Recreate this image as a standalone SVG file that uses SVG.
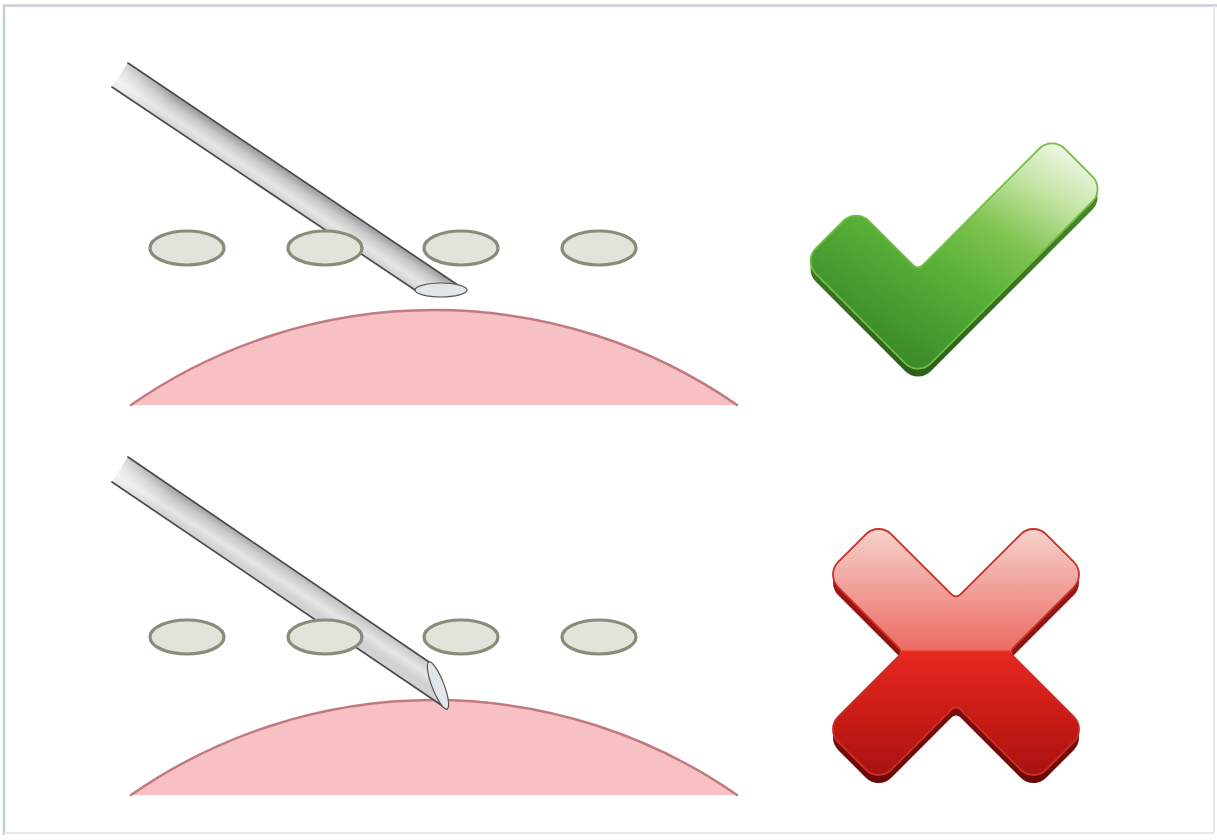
<svg xmlns="http://www.w3.org/2000/svg" width="1217" height="840" viewBox="0 0 1217 840">
  <defs>
    <style>
      .mound { fill: #f7c1c3; stroke: none; }
      .mound-edge { fill: none; stroke: #c27a80; stroke-width: 2.5; stroke-linecap: round; }
      .cell { fill: #e3e3dc; stroke: #8b8b7b; stroke-width: 3.2; }
      .edge { fill: none; stroke: #4b4b4b; stroke-width: 1.7; stroke-linecap: round; }
      .bevel { fill: #e2e6e8; stroke: #555; stroke-width: 1.2; }
    </style>
    <!-- cross-section shading of the needle shafts -->
    <linearGradient id="shaftTop" gradientUnits="userSpaceOnUse" x1="128" y1="63" x2="112" y2="87">
      <stop offset="0" stop-color="#949494"/>
      <stop offset="0.35" stop-color="#c8c8c8"/>
      <stop offset="0.72" stop-color="#e6e6e6"/>
      <stop offset="1" stop-color="#d2d2d2"/>
    </linearGradient>
    <linearGradient id="shaftBottom" gradientUnits="userSpaceOnUse" x1="128" y1="457" x2="112" y2="482">
      <stop offset="0" stop-color="#949494"/>
      <stop offset="0.35" stop-color="#c8c8c8"/>
      <stop offset="0.72" stop-color="#e6e6e6"/>
      <stop offset="1" stop-color="#d2d2d2"/>
    </linearGradient>
    <!-- soft fade at the cut end of each shaft -->
    <linearGradient id="fadeTop" gradientUnits="userSpaceOnUse" x1="118" y1="76" x2="168" y2="109">
      <stop offset="0" stop-color="#fff" stop-opacity="0.55"/>
      <stop offset="1" stop-color="#fff" stop-opacity="0"/>
    </linearGradient>
    <linearGradient id="fadeBottom" gradientUnits="userSpaceOnUse" x1="118" y1="470" x2="168" y2="504">
      <stop offset="0" stop-color="#fff" stop-opacity="0.55"/>
      <stop offset="1" stop-color="#fff" stop-opacity="0"/>
    </linearGradient>
    <!-- glossy green tick -->
    <linearGradient id="tickFace" gradientUnits="userSpaceOnUse" x1="1070" y1="140" x2="925" y2="378">
      <stop offset="0" stop-color="#f3f9ee"/>
      <stop offset="0.2" stop-color="#c6e5a6"/>
      <stop offset="0.42" stop-color="#7fc350"/>
      <stop offset="0.62" stop-color="#5ab239"/>
      <stop offset="1" stop-color="#3a8929"/>
    </linearGradient>
    <linearGradient id="tickSide" x1="0" y1="0" x2="0" y2="1">
      <stop offset="0" stop-color="#4f922f"/>
      <stop offset="1" stop-color="#2c5f18"/>
    </linearGradient>
    <!-- glossy red cross -->
    <linearGradient id="crossFace" gradientUnits="userSpaceOnUse" x1="0" y1="522" x2="0" y2="782">
      <stop offset="0" stop-color="#f8d6d2"/>
      <stop offset="0.2" stop-color="#f3aca6"/>
      <stop offset="0.49" stop-color="#ec6c64"/>
      <stop offset="0.5" stop-color="#e6281f"/>
      <stop offset="0.75" stop-color="#c91b16"/>
      <stop offset="1" stop-color="#a51210"/>
    </linearGradient>
    <linearGradient id="crossSide" x1="0" y1="0" x2="0" y2="1">
      <stop offset="0" stop-color="#a81a16"/>
      <stop offset="1" stop-color="#6c0808"/>
    </linearGradient>
  </defs>

  <!-- page frame: firm top/left rules, faint right/bottom -->
  <rect x="0" y="0" width="1217" height="840" fill="#ffffff"/>
  <path d="M4,835 L4,5.5 L1217,5.5" fill="none" stroke="#c6d0d9" stroke-width="2.5"/>
  <path d="M1214,5.5 L1214,833 L4,833" fill="none" stroke="#e3e9ee" stroke-width="2"/>

  <!-- upper scene: bevel held flat against the surface -->
  <g id="tissue-top">
    <path class="mound" d="M131,405 A531 531 0 0 1 737,405 Z"/>
    <path class="mound-edge" d="M131,405 A531 531 0 0 1 737,405"/>
  </g>
  <g id="needle-top">
    <path d="M128,63 L457,284.5 L415,290 L112,87 Z" fill="url(#shaftTop)"/>
    <path d="M128,63 L457,284.5 L415,290 L112,87 Z" fill="url(#fadeTop)"/>
    <line class="edge" x1="128" y1="63" x2="457" y2="284.5"/>
    <line class="edge" x1="112" y1="87" x2="415" y2="290"/>
    <ellipse class="bevel" cx="441" cy="290" rx="26" ry="7"/>
  </g>
  <g id="cells-top">
    <ellipse class="cell" cx="187" cy="248" rx="37" ry="17"/>
    <ellipse class="cell" cx="325" cy="248" rx="37" ry="17"/>
    <ellipse class="cell" cx="461" cy="248" rx="37" ry="17"/>
    <ellipse class="cell" cx="599" cy="248" rx="37" ry="17"/>
  </g>

  <!-- lower scene: bevel tip pointing into the surface -->
  <g id="tissue-bottom">
    <path class="mound" d="M131,795 A531 531 0 0 1 737,795 Z"/>
    <path class="mound-edge" d="M131,795 A531 531 0 0 1 737,795"/>
  </g>
  <g id="needle-bottom">
    <path d="M128,457 L429,662 L447,709 L112,482 Z" fill="url(#shaftBottom)"/>
    <path d="M128,457 L429,662 L447,709 L112,482 Z" fill="url(#fadeBottom)"/>
    <line class="edge" x1="128" y1="457" x2="429" y2="662"/>
    <line class="edge" x1="112" y1="482" x2="447" y2="709"/>
    <ellipse class="bevel" cx="438" cy="685.5" rx="25.2" ry="6" transform="rotate(69 438 685.5)"/>
  </g>
  <g id="cells-bottom">
    <ellipse class="cell" cx="187" cy="637" rx="37" ry="17"/>
    <ellipse class="cell" cx="325" cy="637" rx="37" ry="17"/>
    <ellipse class="cell" cx="461" cy="637" rx="37" ry="17"/>
    <ellipse class="cell" cx="599" cy="637" rx="37" ry="17"/>
  </g>

  <!-- green tick -->
  <g id="tick">
    <path transform="translate(0,8)" fill="url(#tickSide)" d="M905.27,363.27 L815.83,273.83 A18 18 0 0 1 815.83,248.37 L843.37,220.83 A18 18 0 0 1 868.83,220.83 L913.76,265.76 A6 6 0 0 0 922.24,265.76 L1039.27,148.73 A18 18 0 0 1 1064.73,148.73 L1092.27,176.27 A18 18 0 0 1 1092.27,201.73 L930.73,363.27 A18 18 0 0 1 905.27,363.27 Z"/>
    <path fill="url(#tickFace)" stroke="#74bd45" stroke-width="1.8" d="M905.27,363.27 L815.83,273.83 A18 18 0 0 1 815.83,248.37 L843.37,220.83 A18 18 0 0 1 868.83,220.83 L913.76,265.76 A6 6 0 0 0 922.24,265.76 L1039.27,148.73 A18 18 0 0 1 1064.73,148.73 L1092.27,176.27 A18 18 0 0 1 1092.27,201.73 L930.73,363.27 A18 18 0 0 1 905.27,363.27 Z"/>
  </g>

  <!-- red cross -->
  <g id="cross">
    <path transform="translate(0,8)" fill="url(#crossSide)" d="M838.27,587.31 A18 18 0 0 1 838.27,561.85 L865.85,534.27 A18 18 0 0 1 891.31,534.27 L951.76,594.73 A6 6 0 0 0 960.24,594.73 L1020.69,534.27 A18 18 0 0 1 1046.15,534.27 L1073.73,561.85 A18 18 0 0 1 1073.73,587.31 L1013.27,647.76 A6 6 0 0 0 1013.27,656.24 L1073.73,716.69 A18 18 0 0 1 1073.73,742.15 L1046.15,769.73 A18 18 0 0 1 1020.69,769.73 L960.24,709.27 A6 6 0 0 0 951.76,709.27 L891.31,769.73 A18 18 0 0 1 865.85,769.73 L838.27,742.15 A18 18 0 0 1 838.27,716.69 L898.73,656.24 A6 6 0 0 0 898.73,647.76 Z"/>
    <path fill="url(#crossFace)" stroke="#c8302a" stroke-width="1.8" d="M838.27,587.31 A18 18 0 0 1 838.27,561.85 L865.85,534.27 A18 18 0 0 1 891.31,534.27 L951.76,594.73 A6 6 0 0 0 960.24,594.73 L1020.69,534.27 A18 18 0 0 1 1046.15,534.27 L1073.73,561.85 A18 18 0 0 1 1073.73,587.31 L1013.27,647.76 A6 6 0 0 0 1013.27,656.24 L1073.73,716.69 A18 18 0 0 1 1073.73,742.15 L1046.15,769.73 A18 18 0 0 1 1020.69,769.73 L960.24,709.27 A6 6 0 0 0 951.76,709.27 L891.31,769.73 A18 18 0 0 1 865.85,769.73 L838.27,742.15 A18 18 0 0 1 838.27,716.69 L898.73,656.24 A6 6 0 0 0 898.73,647.76 Z"/>
  </g>
</svg>
